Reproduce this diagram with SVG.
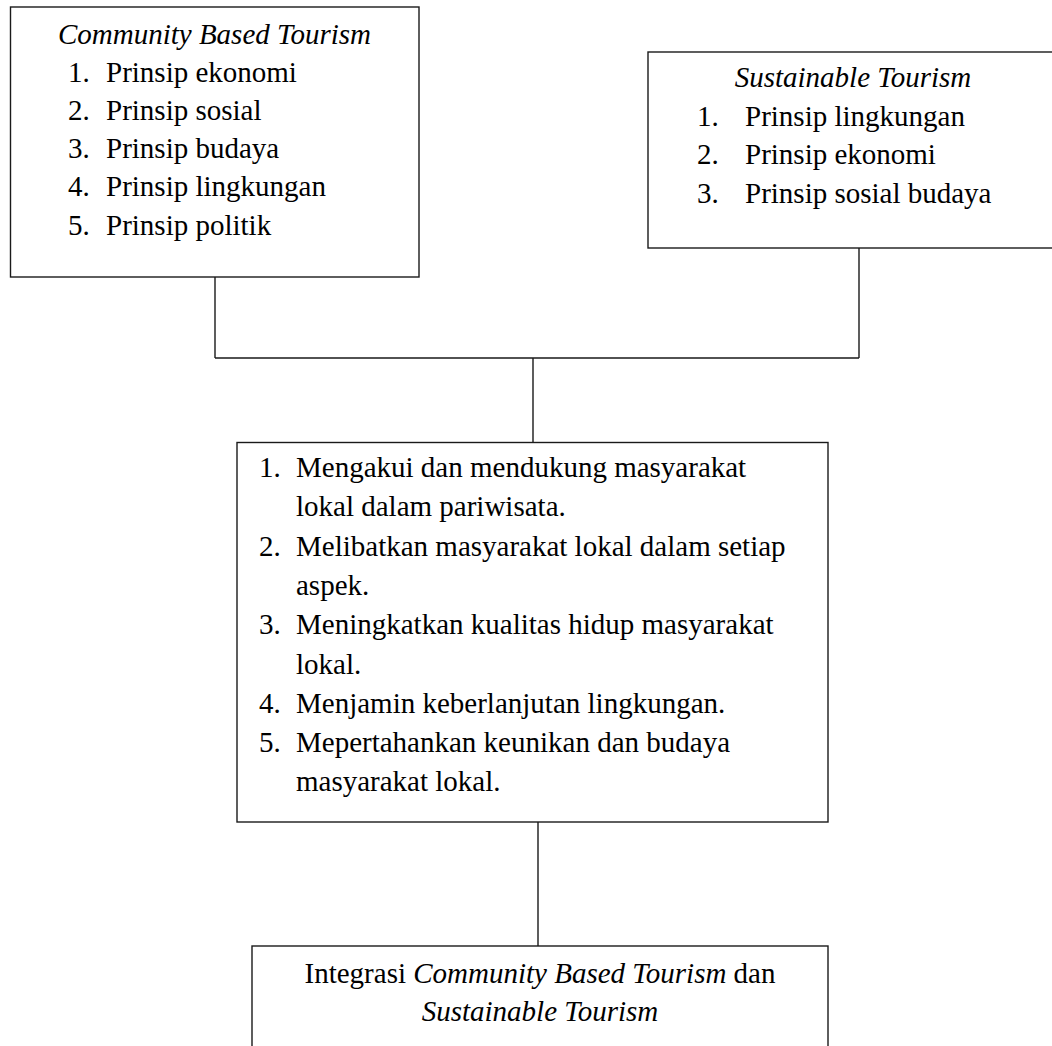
<svg xmlns="http://www.w3.org/2000/svg" width="1052" height="1046" viewBox="0 0 1052 1046">
<style>
.box{fill:#fff;stroke:#1a1a1a;stroke-width:1.4}
.con{fill:none;stroke:#1a1a1a;stroke-width:1.4}
text{font-family:"Liberation Serif","Times New Roman",serif;font-size:29px;fill:#000}
.it{font-style:italic}
.mid{text-anchor:middle}
</style>
<rect width="1052" height="1046" fill="#fff"/>
<g id="connectors">
<path class="con" d="M215,277 V358 M859,248 V358 M215,358 H859 M533,358 V442.5 M538,822 V946"/>
</g>
<g id="cbt">
<rect class="box" x="10.5" y="7" width="408.5" height="270"/>
<text class="it mid" x="214.5" y="44">Community Based Tourism</text>
<text x="68" y="81.5">1.</text><text x="106" y="81.5">Prinsip ekonomi</text>
<text x="68" y="119.8">2.</text><text x="106" y="119.8">Prinsip sosial</text>
<text x="68" y="158.1">3.</text><text x="106" y="158.1">Prinsip budaya</text>
<text x="68" y="196.4">4.</text><text x="106" y="196.4">Prinsip lingkungan</text>
<text x="68" y="234.7">5.</text><text x="106" y="234.7">Prinsip politik</text>
</g>
<g id="st">
<rect class="box" x="648" y="52" width="412" height="196"/>
<text class="it mid" x="853" y="87">Sustainable Tourism</text>
<text x="697" y="125.5">1.</text><text x="745" y="125.5">Prinsip lingkungan</text>
<text x="697" y="164">2.</text><text x="745" y="164">Prinsip ekonomi</text>
<text x="697" y="202.5">3.</text><text x="745" y="202.5">Prinsip sosial budaya</text>
</g>
<g id="principles">
<rect class="box" x="237" y="442.5" width="591" height="379.5"/>
<text x="259" y="477">1.</text><text x="296" y="477">Mengakui dan mendukung masyarakat</text>
<text x="296" y="516.3">lokal dalam pariwisata.</text>
<text x="259" y="555.6">2.</text><text x="296" y="555.6">Melibatkan masyarakat lokal dalam setiap</text>
<text x="296" y="594.9">aspek.</text>
<text x="259" y="634.2">3.</text><text x="296" y="634.2">Meningkatkan kualitas hidup masyarakat</text>
<text x="296" y="673.5">lokal.</text>
<text x="259" y="712.8">4.</text><text x="296" y="712.8">Menjamin keberlanjutan lingkungan.</text>
<text x="259" y="752.1">5.</text><text x="296" y="752.1">Mepertahankan keunikan dan budaya</text>
<text x="296" y="791.4">masyarakat lokal.</text>
</g>
<g id="integration">
<rect class="box" x="252" y="946" width="576" height="130"/>
<text class="mid" x="540" y="983">Integrasi <tspan class="it">Community Based Tourism</tspan> dan</text>
<text class="it mid" x="540" y="1021">Sustainable Tourism</text>
</g>
</svg>
